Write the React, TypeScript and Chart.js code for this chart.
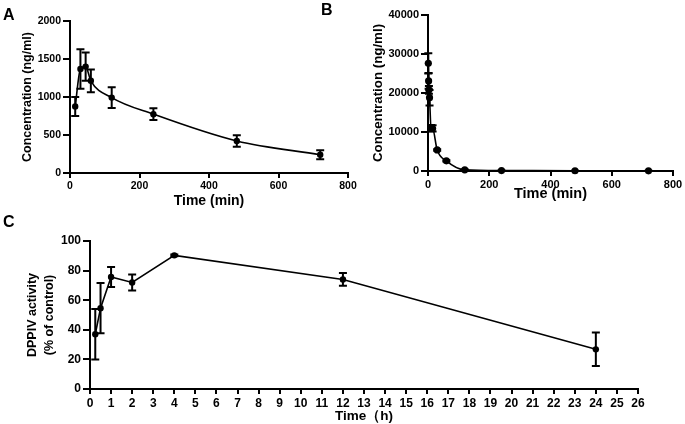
import React, { useEffect, useRef } from 'react';
import { Chart, registerables } from 'chart.js';

Chart.register(...registerables);

const FONT = 'Arial, "Liberation Sans", Helvetica, sans-serif';

// Panel A
const timesA = [15, 30, 45, 60, 120, 240, 480, 720];
const concA = [876, 1369, 1400, 1213, 992, 774, 421, 240];
const semA = [125, 260, 187, 150, 136, 77, 77, 60];

// Panel B
const timesB = [1, 2, 3, 5, 10, 15, 30, 60, 120, 240, 480, 720];
const concB = [27600, 23100, 20800, 18800, 11000, 10900, 5400, 2600, 300, 120, 70, 40];
const semB = [2600, 2000, 1000, 2000, 800, 800, 200, 150, 60, 30, 20, 15];

// Panel C
const timesC = [0.25, 0.5, 1, 2, 4, 12, 24];
const actC = [37, 54.6, 75.7, 72, 90.3, 74, 26.8];
const semC = [17, 17, 6.7, 5.4, 0.6, 4.3, 11.3];

const X_TICK_LEN = 5;
const Y_TICK_LEN = 7;

const errorBarPlugin = {
  id: 'errorBars',
  afterDatasetsDraw(chart: any, _args: any, opts: any) {
    const { ctx } = chart;
    const xs = chart.scales.x;
    const ys = chart.scales.y;
    chart.data.datasets.forEach((ds: any) => {
      const errs = ds.errors;
      if (!errs) return;
      ds.data.forEach((p: any, i: number) => {
        const e = errs[i];
        if (!e) return;
        const x = xs.getPixelForValue(p.x);
        const yTop = ys.getPixelForValue(p.y + e);
        const yBot = ys.getPixelForValue(Math.max(p.y - e, ys.min));
        const c = opts.cap ?? 4;
        ctx.save();
        ctx.strokeStyle = '#000';
        ctx.lineWidth = opts.lineWidth ?? 2;
        ctx.beginPath();
        ctx.moveTo(x, yTop);
        ctx.lineTo(x, yBot);
        ctx.moveTo(x - c, yTop);
        ctx.lineTo(x + c, yTop);
        ctx.moveTo(x - c, yBot);
        ctx.lineTo(x + c, yBot);
        ctx.stroke();
        ctx.restore();
      });
    });
  },
};

// Outward tick marks drawn from the scales' own ticks
const tickMarkPlugin = {
  id: 'tickMarks',
  afterDraw(chart: any) {
    const { ctx, chartArea } = chart;
    const xs = chart.scales.x;
    const ys = chart.scales.y;
    ctx.save();
    ctx.strokeStyle = '#000';
    ctx.lineWidth = 2;
    ctx.beginPath();
    xs.ticks.forEach((t: any) => {
      const px = Math.round(xs.getPixelForValue(t.value));
      ctx.moveTo(px, chartArea.bottom);
      ctx.lineTo(px, chartArea.bottom + X_TICK_LEN);
    });
    ys.ticks.forEach((t: any) => {
      const py = Math.round(ys.getPixelForValue(t.value));
      ctx.moveTo(chartArea.left, py);
      ctx.lineTo(chartArea.left - Y_TICK_LEN, py);
    });
    ctx.stroke();
    ctx.restore();
  },
};

type PanelSpec = {
  left: number;
  top: number;
  width: number;
  height: number;
  padTop: number;
  padRight: number;
  yWidth: number;
  xHeight: number;
  xs: number[];
  ys: number[];
  errs: number[];
  xMax: number;
  xStep: number;
  yMax: number;
  yStep: number;
  tickSize: number;
  xTitle: string;
  xTitleSize: number;
  xTitlePadBottom: number;
  yTitle: string | string[];
  yTitleSize: number;
  yTitleLH: number;
  yTitlePadTop: number;
  pointRadius: number;
  smooth: boolean;
};

function makeConfig(s: PanelSpec): any {
  const tickFont = { family: FONT, size: s.tickSize, weight: 'bold' as const };
  const gridFor = (len: number) => ({
    display: true,
    drawOnChartArea: false,
    drawTicks: true,
    tickLength: len,
    color: '#000',
    lineWidth: 2,
  });
  const border = { display: true, color: '#000', width: 2 };
  const fmt = (v: any) => String(v);
  return {
    type: 'line',
    data: {
      datasets: [
        {
          data: s.xs.map((x, i) => ({ x, y: s.ys[i] })),
          errors: s.errs,
          borderColor: '#000',
          backgroundColor: '#000',
          borderWidth: 1.6,
          pointRadius: s.pointRadius,
          pointBackgroundColor: '#000',
          pointBorderColor: '#000',
          pointBorderWidth: 0,
          cubicInterpolationMode: s.smooth ? 'monotone' : 'default',
          tension: 0,
          clip: false,
        },
      ],
    },
    options: {
      responsive: false,
      animation: false,
      events: [],
      layout: { padding: { left: 0, top: s.padTop, right: s.padRight, bottom: 0 } },
      plugins: {
        legend: { display: false },
        tooltip: { enabled: false },
        errorBars: { cap: 4, lineWidth: 2 },
      },
      scales: {
        x: {
          type: 'linear',
          min: 0,
          max: s.xMax,
          ticks: {
            stepSize: s.xStep,
            color: '#000',
            font: tickFont,
            padding: 2,
            maxRotation: 0,
            autoSkip: false,
            callback: fmt,
          },
          grid: gridFor(X_TICK_LEN),
          border,
          title: {
            display: true,
            text: s.xTitle,
            color: '#000',
            font: { family: FONT, size: s.xTitleSize, weight: 'bold', lineHeight: 1.2 },
            padding: { top: 0, bottom: s.xTitlePadBottom },
          },
          afterFit: (sc: any) => {
            sc.height = s.xHeight;
          },
        },
        y: {
          type: 'linear',
          min: 0,
          max: s.yMax,
          ticks: {
            stepSize: s.yStep,
            color: '#000',
            font: tickFont,
            padding: 2,
            autoSkip: false,
            callback: fmt,
          },
          grid: gridFor(Y_TICK_LEN),
          border,
          title: {
            display: true,
            text: s.yTitle,
            color: '#000',
            font: { family: FONT, size: s.yTitleSize, weight: 'bold', lineHeight: s.yTitleLH },
            padding: { top: s.yTitlePadTop, bottom: 0 },
          },
          afterFit: (sc: any) => {
            sc.width = s.yWidth;
          },
        },
      },
    },
    plugins: [errorBarPlugin, tickMarkPlugin],
  };
}

const specA: PanelSpec = {
  left: 0, top: 0, width: 365, height: 215,
  padTop: 21, padRight: 17, yWidth: 70, xHeight: 42,
  xs: timesA, ys: concA, errs: semA,
  xMax: 800, xStep: 200, yMax: 2000, yStep: 500,
  tickSize: 10.5,
  xTitle: 'Time (min)', xTitleSize: 14, xTitlePadBottom: 5,
  yTitle: 'Concentration (ng/ml)', yTitleSize: 12.5, yTitleLH: 1.2, yTitlePadTop: 20.5,
  pointRadius: 3.2, smooth: true,
};

const specB: PanelSpec = {
  left: 340, top: 0, width: 345, height: 215,
  padTop: 15, padRight: 12, yWidth: 88, xHeight: 44,
  xs: timesB, ys: concB, errs: semB,
  xMax: 800, xStep: 200, yMax: 40000, yStep: 10000,
  tickSize: 11,
  xTitle: 'Time (min)', xTitleSize: 14.5, xTitlePadBottom: 12.5,
  yTitle: 'Concentration (ng/ml)', yTitleSize: 13.3, yTitleLH: 1.2, yTitlePadTop: 30,
  pointRadius: 3.6, smooth: true,
};

const specC: PanelSpec = {
  left: 0, top: 205, width: 685, height: 219,
  padTop: 36, padRight: 47, yWidth: 90, xHeight: 35,
  xs: timesC, ys: actC, errs: semC,
  xMax: 26, xStep: 1, yMax: 100, yStep: 20,
  tickSize: 12,
  xTitle: 'Time（h)', xTitleSize: 13.5, xTitlePadBottom: 0,
  yTitle: ['DPPIV activity', '(% of control)'], yTitleSize: 12.5, yTitleLH: 1.36, yTitlePadTop: 24.5,
  pointRadius: 3.2, smooth: false,
};

function Panel({ spec }: { spec: PanelSpec }) {
  const ref = useRef<HTMLCanvasElement | null>(null);
  useEffect(() => {
    if (!ref.current) return;
    const chart = new Chart(ref.current, makeConfig(spec));
    return () => chart.destroy();
  }, [spec]);
  return (
    <canvas
      ref={ref}
      width={spec.width}
      height={spec.height}
      style={{
        position: 'absolute',
        left: spec.left,
        top: spec.top,
        width: spec.width,
        height: spec.height,
      }}
    />
  );
}

const letterStyle = (left: number, top: number): React.CSSProperties => ({
  position: 'absolute',
  left,
  top,
  fontFamily: FONT,
  fontWeight: 'bold',
  fontSize: 16,
  lineHeight: '16px',
  color: '#000',
});

export default function App() {
  return (
    <div
      style={{
        position: 'absolute',
        left: 0,
        top: 0,
        width: 685,
        height: 424,
        background: '#fff',
        overflow: 'hidden',
      }}
    >
      <Panel spec={specA} />
      <Panel spec={specB} />
      <Panel spec={specC} />
      <div style={letterStyle(3, 7)}>A</div>
      <div style={letterStyle(321, 2)}>B</div>
      <div style={letterStyle(3, 214)}>C</div>
    </div>
  );
}
